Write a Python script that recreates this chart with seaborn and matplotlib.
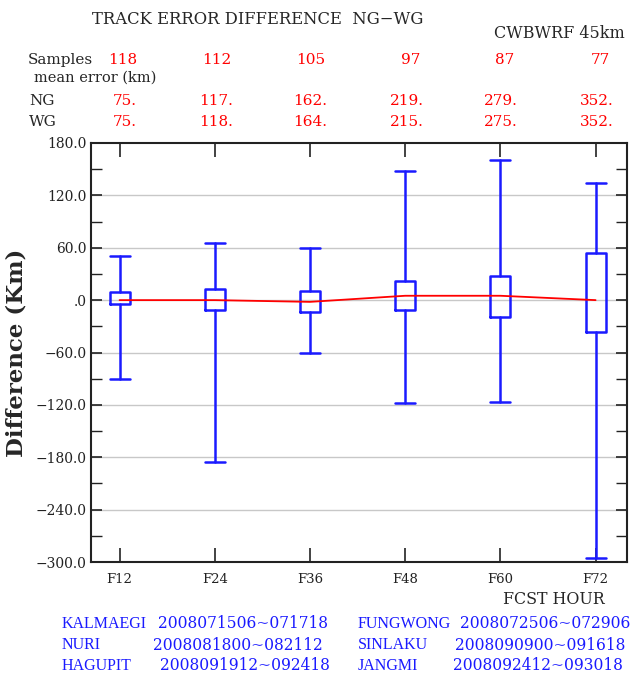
import numpy as np
import pandas as pd
import matplotlib
matplotlib.use("Agg")
import matplotlib.pyplot as plt
import seaborn as sns

# ---------------- data ----------------
hours = ["F12", "F24", "F36", "F48", "F60", "F72"]
samples = [118, 112, 105, 97, 87, 77]
ng_err = ["75.", "117.", "162.", "219.", "279.", "352."]
wg_err = ["75.", "118.", "164.", "215.", "275.", "352."]
whisk_hi = [50, 65, 60, 148, 161, 134]
whisk_lo = [-90, -185, -60, -118, -117, -295]
box_hi = [9, 13, 10, 22, 28, 54]
box_lo = [-5, -11, -14, -11, -19, -37]
mean_diff = [0, 0, -2, 5, 5, 0]
yticks = [180, 120, 60, 0, -60, -120, -180, -240, -300]
storm_names = ["KALMAEGI", "NURI", "HAGUPIT", "FUNGWONG", "SINLAKU", "JANGMI"]
storm_dates = ["2008071506~071718", "2008081800~082112", "2008091912~092418",
               "2008072506~072906", "2008090900~091618", "2008092412~093018"]

sns.set_theme(style="white")
plt.rcParams["font.family"] = ["DejaVu Serif"]

W, H = 630, 676
fig = plt.figure(figsize=(W / 100, H / 100), dpi=100)
ax = fig.add_axes([91 / W, 1 - 562 / H, (627 - 91) / W, (562 - 143) / H])

x = np.arange(len(hours))
stats = []
for i in range(len(hours)):
    stats.append(dict(med=mean_diff[i], q1=box_lo[i], q3=box_hi[i],
                      whislo=whisk_lo[i], whishi=whisk_hi[i], fliers=[]))
blue = "#1a1aff"
ax.bxp(stats, positions=x, widths=0.21, capwidths=0.21, showfliers=False,
       boxprops=dict(color=blue, linewidth=1.8),
       whiskerprops=dict(color=blue, linewidth=1.8),
       capprops=dict(color=blue, linewidth=1.8),
       medianprops=dict(linewidth=0), manage_ticks=False)

df = pd.DataFrame({"x": x, "mean": mean_diff})
sns.lineplot(data=df, x="x", y="mean", ax=ax, color="red", linewidth=1.3, zorder=5)

ax.set_xlim(-0.3, 5.33)
ax.set_ylim(-300, 180)
ax.set_xticks(x)
ax.set_xticklabels(hours, fontsize=9.5)
ax.set_yticks(yticks)
ax.set_yticklabels([".0" if v == 0 else ("%.1f" % v).replace("-", "\u2212") for v in yticks],
                   fontsize=10)
ax.set_yticks(np.arange(-270, 180, 60), minor=True)
ax.tick_params(axis="x", which="major", direction="in", length=10, width=1.2,
               top=True, bottom=True, pad=8, colors="#222222")
ax.tick_params(axis="y", which="major", direction="in", length=8, width=1.2,
               left=True, right=True, pad=3, colors="#222222")
ax.tick_params(axis="y", which="minor", direction="in", length=8, width=1.0,
               left=True, right=True, colors="#222222")
ax.set_xlabel("")
ax.set_ylabel("Difference (Km)", fontsize=16.5, fontweight="bold", labelpad=6)
for v in yticks[1:-1]:
    ax.axhline(v, color="#c8c8c8", linewidth=1.0, zorder=0)
for s in ax.spines.values():
    s.set_color("#222222")
    s.set_linewidth(1.5)

# ---------------- header text ----------------
def fx(px):
    return px / W

def fy(py):
    return 1 - py / H

fig.text(fx(92), fy(20), "TRACK ERROR DIFFERENCE  NG\u2212WG", fontsize=11.8, va="center", ha="left")
fig.text(fx(625), fy(33), "CWBWRF 45km", fontsize=11.5, va="center", ha="right")
fig.text(fx(28), fy(60), "Samples", fontsize=11, va="center", ha="left")
fig.text(fx(34), fy(78), "mean error (km)", fontsize=10.5, va="center", ha="left")
fig.text(fx(29), fy(101), "NG", fontsize=11, va="center", ha="left")
fig.text(fx(29), fy(122), "WG", fontsize=11, va="center", ha="left")
samp_right = [137, 231, 325, 420, 514, 610]
err_right = [137, 233, 327, 424, 518, 614]
for i in range(len(hours)):
    fig.text(fx(samp_right[i]), fy(60), str(samples[i]), fontsize=11, color="red", va="center", ha="right")
    fig.text(fx(err_right[i]), fy(101), ng_err[i], fontsize=11, color="red", va="center", ha="right")
    fig.text(fx(err_right[i]), fy(122), wg_err[i], fontsize=11, color="red", va="center", ha="right")

fig.text(fx(605), fy(599), "FCST HOUR", fontsize=11.4, va="center", ha="right")

name_x = [62, 62, 62, 358, 358, 358]
date_x = [158, 153, 160, 460, 455, 453]
row_y = [624, 645, 666, 624, 645, 666]
for i in range(len(storm_names)):
    fig.text(fx(name_x[i]), fy(row_y[i]), storm_names[i], fontsize=11.5, color=blue,
             va="center", ha="left", family="Liberation Serif")
    fig.text(fx(date_x[i]), fy(row_y[i]), storm_dates[i], fontsize=11.2, color=blue,
             va="center", ha="left")

fig.savefig("out.png", dpi=100)
